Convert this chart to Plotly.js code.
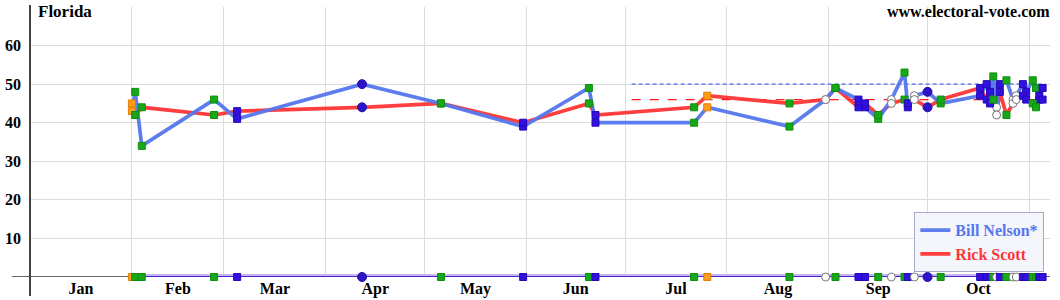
<!DOCTYPE html>
<html>
<head>
<meta charset="utf-8">
<script src="https://cdn.plot.ly/plotly-3.0.1.min.js"></script>
<style>
  html, body { margin: 0; padding: 0; background: #fff; }
  #chart { width: 1060px; height: 300px; }
</style>
</head>
<body>
<div id="chart"></div>
<script>
// ---- Data ----
const pollDates = ['2018-02-01','2018-02-02','2018-02-04','2018-02-26','2018-03-05','2018-04-12','2018-05-06','2018-05-31','2018-06-20','2018-06-22','2018-07-22','2018-07-26','2018-08-20','2018-08-31','2018-09-03','2018-09-10','2018-09-12','2018-09-16','2018-09-20','2018-09-24','2018-09-25','2018-09-27','2018-10-01','2018-10-05','2018-10-17','2018-10-19','2018-10-20','2018-10-21','2018-10-22','2018-10-23','2018-10-25','2018-10-27','2018-10-28','2018-10-30','2018-10-31','2018-11-02','2018-11-03','2018-11-04','2018-11-05'];
const nelson = [43,48,34,46,41,50,45,39,49,40,40,44,39,46,49,46,44,41,46,53,44,47,48,45,47,50,48,52,44,50,51,46,47,50,48,51,49,46,49];
const scott  = [45,42,44,42,43,44,45,40,45,42,44,47,45,46,49,44,45,42,45,46,45,46,44,46,49,46,45,46,42,48,42,45,46,47,46,45,44,47,46];
// pollster type code: o = orange, g = green, b = blue square, c = blue circle, w = white circle
const pollType = ['o','g','g','g','b','c','g','b','g','b','g','o','g','w','g','b','b','g','w','g','b','w','c','g','b','b','b','g','w','b','g','w','w','b','b','g','g','b','b'];
const avgDates = ['2018-07-03','2018-11-06'];
const nelsonAvg = [50,50];
const scottAvg  = [46,46];
const electionDay = ['2018-11-06'];
const yTicks = [10,20,30,40,50,60];
const chartTitle = 'Florida';
const siteName = 'www.electoral-vote.com';
const names = ['Bill Nelson*','Rick Scott'];

// ---- Styles ----
const typeStyle = {
  o: {symbol:'square', color:'#ff9a1a', line:'#e08000', size:7},
  g: {symbol:'square', color:'#16a816', line:'#0f8f0f', size:7},
  b: {symbol:'square', color:'#3210e0', line:'#2508b8', size:7},
  c: {symbol:'circle', color:'#3015c8', line:'#2010a8', size:9},
  w: {symbol:'circle', color:'#ffffff', line:'#777777', size:8}
};
const BLUE = '#5577ee', RED = '#ff3535';
const serif = 'Liberation Serif, Times New Roman, serif';

const mk = (key) => pollType.map(t => typeStyle[t][key]);
const allDates = pollDates.concat(pollDates);
const allTypes = pollType.concat(pollType);
const markerOf = (key) => allTypes.map(t => typeStyle[t][key]);

const traces = [
  // dashed averages
  {x: avgDates, y: nelsonAvg, mode:'lines', line:{color:'#7790f0', width:1.6, dash:'4px,3px'}, showlegend:false, hoverinfo:'skip'},
  {x: avgDates, y: scottAvg, mode:'lines', line:{color:'#ff1a1a', width:1.3, dash:'dash'}, showlegend:false, hoverinfo:'skip'},
  // Scott line
  {x: pollDates, y: scott, mode:'lines', name:'<b><span style="color:'+RED+'">'+names[1]+'</span></b>',
   line:{color:RED, width:3.7}, legendrank:2, opacity:0.95},
  // Nelson line
  {x: pollDates, y: nelson, mode:'lines', name:'<b><span style="color:'+BLUE+'">'+names[0]+'</span></b>',
   line:{color:BLUE, width:3.7}, legendrank:1, opacity:0.95},
  // poll markers on both lines
  {x: allDates, y: nelson.concat(scott), mode:'markers', showlegend:false, hoverinfo:'x+y',
   marker:{symbol:markerOf('symbol'), color:markerOf('color'), size:markerOf('size'), opacity:1,
           line:{color:markerOf('line'), width:1}}},
  // timeline at bottom
  {x: [pollDates[0], pollDates[pollDates.length-1]], y: pollDates.slice(0,2).map(()=>0), mode:'lines',
   line:{color:'#c6b6f6', width:6}, showlegend:false, hoverinfo:'skip', cliponaxis:false},
  {x: [pollDates[0], pollDates[pollDates.length-1]], y: pollDates.slice(0,2).map(()=>0), mode:'lines',
   line:{color:'#4a22c0', width:2}, showlegend:false, hoverinfo:'skip', cliponaxis:false},
  {x: pollDates, y: pollDates.map(()=>0), mode:'markers', showlegend:false, cliponaxis:false, hoverinfo:'x',
   marker:{symbol:mk('symbol'), color:mk('color'), size:mk('size'), opacity:1, line:{color:mk('line'), width:1}}},
  // election day star
  {x: electionDay, y: [-3], mode:'markers', showlegend:false, cliponaxis:false, hoverinfo:'x',
   marker:{symbol:'star', color:'#8a4f9e', size:13, opacity:1}}
];

const layout = {
  width: 1060, height: 300,
  margin: {l:30, r:10, t:7, b:23, pad:0},
  paper_bgcolor:'#ffffff', plot_bgcolor:'#ffffff',
  font: {family: serif, size: 16, color:'#000'},
  xaxis: {
    type:'date', range:['2018-01-01','2018-11-07 06:00'],
    tick0:'2018-01-01', dtick:'M1', ticklabelmode:'period', tickformat:'%b',
    showgrid:true, gridcolor:'#dcdcdc', gridwidth:1,
    zeroline:false, showline:false, ticks:'',
    tickfont:{family: serif, size:16, weight:'bold', color:'#000'},
    fixedrange:true
  },
  yaxis: {
    range:[0,70], tickvals:yTicks, ticktext:yTicks.map(String),
    showgrid:true, gridcolor:'#dcdcdc', gridwidth:1,
    zeroline:false, showline:false, ticks:'', ticklabelstandoff:8,
    tickfont:{family: serif, size:16, weight:'bold', color:'#000'},
    fixedrange:true
  },
  shapes: [
    {type:'line', xref:'paper', yref:'y', x0:-0.0176, x1:1.0, y0:0, y1:0, line:{color:'#333', width:1.5}, layer:'below'},
    {type:'line', xref:'paper', yref:'paper', x0:0, x1:0, y0:-0.07, y1:1.007, line:{color:'#444', width:2}}
  ],
  annotations: [
    {text:'<b>'+chartTitle+'</b>', xref:'paper', yref:'paper', x:0.006, y:0.985, xanchor:'left', yanchor:'middle',
     showarrow:false, font:{family: serif, size:17, color:'#000'}},
    {text:'<b>'+siteName+'</b>', xref:'paper', yref:'paper', x:1.002, y:0.982, xanchor:'right', yanchor:'middle',
     showarrow:false, font:{family: serif, size:16, color:'#000'}}
  ],
  legend: {
    x:0.867, y:0.018, xanchor:'left', yanchor:'bottom',
    bgcolor:'rgba(244,244,252,0.9)', bordercolor:'#a8aacc', borderwidth:1,
    font:{family: serif, size:16}, tracegroupgap:0
  },
  showlegend:true
};

Plotly.newPlot('chart', traces, layout, {staticPlot:true, displayModeBar:false});
</script>
</body>
</html>
